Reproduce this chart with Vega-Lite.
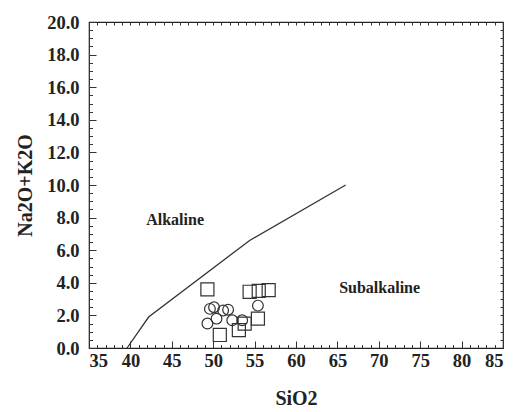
{
  "$schema": "https://vega.github.io/schema/vega-lite/v6.json",
  "width": 414,
  "height": 326,
  "padding": {"left": 89, "top": 22, "right": 12, "bottom": 64},
  "autosize": {"type": "none"},
  "background": "white",
  "config": {
    "view": {"stroke": "#222", "strokeWidth": 1.2},
    "font": "Liberation Serif",
    "axis": {"grid": false, "labelFont": "Liberation Serif", "titleFont": "Liberation Serif", "labelColor": "#222", "titleColor": "#222", "tickColor": "#333", "domain": false}
  },
  "datasets": {
    "boundary": [
      {"SiO2": 39.6, "alk": 0},
      {"SiO2": 42.2, "alk": 1.9},
      {"SiO2": 54.4, "alk": 6.6},
      {"SiO2": 66.0, "alk": 10.0}
    ],
    "squares": [
      {"SiO2": 49.3, "alk": 3.6},
      {"SiO2": 54.4, "alk": 3.45},
      {"SiO2": 55.5, "alk": 3.5},
      {"SiO2": 56.7, "alk": 3.55},
      {"SiO2": 55.4, "alk": 1.8},
      {"SiO2": 53.8, "alk": 1.5},
      {"SiO2": 53.1, "alk": 1.1},
      {"SiO2": 50.8, "alk": 0.8}
    ],
    "circles": [
      {"SiO2": 49.6, "alk": 2.4},
      {"SiO2": 50.1, "alk": 2.5},
      {"SiO2": 51.2, "alk": 2.3},
      {"SiO2": 51.8, "alk": 2.35},
      {"SiO2": 49.3, "alk": 1.5},
      {"SiO2": 50.4, "alk": 1.8},
      {"SiO2": 52.3, "alk": 1.7},
      {"SiO2": 53.5, "alk": 1.7},
      {"SiO2": 55.4, "alk": 2.6}
    ],
    "labels": [
      {"SiO2": 45.4, "alk": 7.85, "text": "Alkaline"},
      {"SiO2": 70.1, "alk": 3.7, "text": "Subalkaline"}
    ]
  },
  "resolve": {"axis": {"x": "independent", "y": "independent"}},
  "layer": [
    {
      "data": {"name": "boundary"},
      "mark": {"type": "line", "color": "#333", "strokeWidth": 1.3},
      "encoding": {
        "x": {"field": "SiO2", "type": "quantitative", "scale": {"domain": [35, 85], "nice": false, "zero": false},
          "axis": {"orient": "bottom", "values": [35,40,45,50,55,60,65,70,75,80,85], "ticks": false, "labelPadding": 3, "labelFontSize": 18.5, "labelFontWeight": "bold", "title": "SiO2", "titleFontSize": 20, "titleFontWeight": "bold", "titlePadding": 19}},
        "y": {"field": "alk", "type": "quantitative", "scale": {"domain": [0, 20], "nice": false, "zero": false},
          "axis": {"orient": "left", "values": [0,2,4,6,8,10,12,14,16,18,20], "format": ".1f", "ticks": false, "labelPadding": 10, "labelFontSize": 18.5, "labelFontWeight": "bold", "title": "Na2O+K2O", "titleFontSize": 20, "titleFontWeight": "bold", "titlePadding": 11}}
      }
    },
    {
      "data": {"name": "squares"},
      "mark": {"type": "point", "shape": "square", "filled": false, "color": "#333", "size": 170, "strokeWidth": 1.2, "opacity": 1},
      "encoding": {
        "x": {"field": "SiO2", "type": "quantitative",
          "axis": {"orient": "bottom", "values": [35,40,45,50,55,60,65,70,75,80,85], "labels": false, "tickSize": -7, "title": null}},
        "y": {"field": "alk", "type": "quantitative",
          "axis": {"orient": "left", "values": [0,2,4,6,8,10,12,14,16,18,20], "labels": false, "tickSize": -7, "title": null}}
      }
    },
    {
      "data": {"name": "circles"},
      "mark": {"type": "point", "shape": "circle", "filled": false, "color": "#333", "size": 115, "strokeWidth": 1.2, "opacity": 1},
      "encoding": {
        "x": {"field": "SiO2", "type": "quantitative",
          "axis": {"orient": "bottom", "values": [36,37,38,39,41,42,43,44,46,47,48,49,51,52,53,54,56,57,58,59,61,62,63,64,66,67,68,69,71,72,73,74,76,77,78,79,81,82,83,84], "labels": false, "tickSize": -3.5, "title": null}},
        "y": {"field": "alk", "type": "quantitative",
          "axis": {"orient": "left", "values": [0.5,1,1.5,2.5,3,3.5,4.5,5,5.5,6.5,7,7.5,8.5,9,9.5,10.5,11,11.5,12.5,13,13.5,14.5,15,15.5,16.5,17,17.5,18.5,19,19.5], "labels": false, "tickSize": -3.5, "title": null}}
      }
    },
    {
      "data": {"name": "labels"},
      "mark": {"type": "text", "font": "Liberation Serif", "fontWeight": "bold", "fontSize": 16, "color": "#222"},
      "encoding": {
        "x": {"field": "SiO2", "type": "quantitative",
          "axis": {"orient": "top", "values": [36,37,38,39,40,41,42,43,44,45,46,47,48,49,50,51,52,53,54,55,56,57,58,59,60,61,62,63,64,65,66,67,68,69,70,71,72,73,74,75,76,77,78,79,80,81,82,83,84], "labels": false, "tickSize": -3, "title": null}},
        "y": {"field": "alk", "type": "quantitative",
          "axis": {"orient": "right", "values": [0.5,1,1.5,2,2.5,3,3.5,4,4.5,5,5.5,6,6.5,7,7.5,8,8.5,9,9.5,10,10.5,11,11.5,12,12.5,13,13.5,14,14.5,15,15.5,16,16.5,17,17.5,18,18.5,19,19.5], "labels": false, "tickSize": -3, "title": null}},
        "text": {"field": "text", "type": "nominal"}
      }
    }
  ]
}
